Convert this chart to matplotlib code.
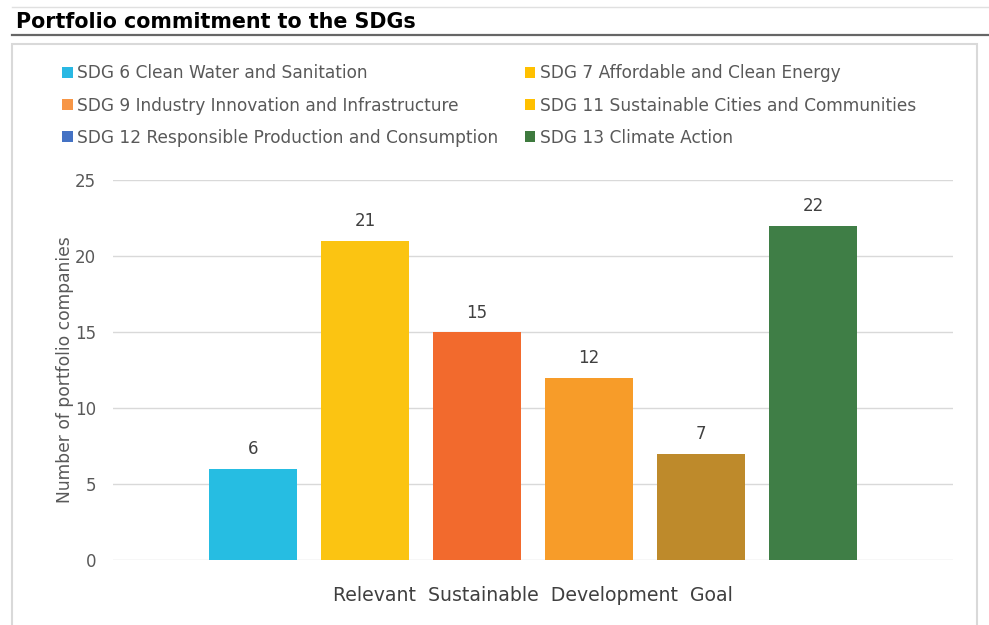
import matplotlib.pyplot as plt
from matplotlib.patches import Patch, Rectangle
from matplotlib.lines import Line2D

plt.rcParams['font.family'] = ['DejaVu Sans']

# data
sdg_labels = ['SDG 6 Clean Water and Sanitation',
              'SDG 7 Affordable and Clean Energy',
              'SDG 9 Industry Innovation and Infrastructure',
              'SDG 11 Sustainable Cities and Communities',
              'SDG 12 Responsible Production and Consumption',
              'SDG 13 Climate Action']
companies = [6, 21, 15, 12, 7, 22]
bar_colors = ['#26BDE2', '#FBC412', '#F26A2D', '#F79C29', '#BE8A2B', '#3F7E46']
legend_colors = ['#29B8E3', '#FFC000', '#F79646', '#FFC000', '#4472C4', '#3E7A3E']

W, H = 989, 625
fig = plt.figure(figsize=(W / 100, H / 100), dpi=100)

def fx(px):
    return px / W

def fy(py):
    return 1 - py / H

# frame lines (title underline, panel border)
fig.add_artist(Line2D([fx(12), 1], [fy(7), fy(7)], color='#E0E0E0', lw=1))
fig.add_artist(Line2D([fx(12), 1], [fy(35), fy(35)], color='#666666', lw=1.6))
fig.add_artist(Rectangle((fx(12), fy(640)), fx(977) - fx(12), fy(44) - fy(640),
                         fill=False, edgecolor='#D9D9D9', lw=1.5))

fig.text(fx(16), fy(22), 'Portfolio commitment to the SDGs', fontsize=14.9,
         fontweight='bold', color='black', va='center', ha='left')

ax = fig.add_axes([fx(113), fy(560), fx(953) - fx(113), fy(180) - fy(560)])
x = list(range(len(companies)))
bars = ax.bar(x, companies, width=0.79, color=bar_colors, zorder=3)
for b, v in zip(bars, companies):
    ax.annotate(str(v), (b.get_x() + b.get_width() / 2, v), xytext=(0, 14),
                textcoords='offset points', ha='center', va='center',
                fontsize=12, color='#404040')

ax.set_xlim(-1.25, 6.25)
ax.set_ylim(0, 25)
ax.set_yticks([0, 5, 10, 15, 20, 25])
ax.set_xticks([])
ax.grid(axis='y', color='#D9D9D9', lw=1, zorder=0)
for s in ax.spines.values():
    s.set_visible(False)
ax.tick_params(axis='y', length=0, labelsize=12, labelcolor='#595959', pad=12)
ax.set_ylabel('Number of portfolio companies', fontsize=12.3, color='#595959', labelpad=1)
ax.set_xlabel('Relevant  Sustainable  Development  Goal', fontsize=13.6, color='#404040',
              labelpad=19)

# legend, row order -> column-first order for ncol=2
order = [0, 2, 4, 1, 3, 5]
handles = [Patch(facecolor=legend_colors[i], edgecolor='none') for i in order]
labels = [sdg_labels[i] for i in order]
fig.legend(handles, labels, loc='upper left', bbox_to_anchor=(fx(47), fy(49)),
           ncol=2, frameon=False, fontsize=12.25, labelcolor='#595959',
           handlelength=0.6, handleheight=0.6, handletextpad=0.25,
           columnspacing=1.6, labelspacing=0.84)

fig.savefig('out.png', dpi=100)
